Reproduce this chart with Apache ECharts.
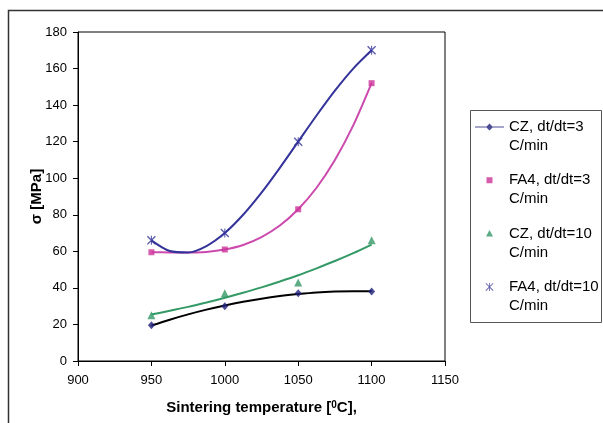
<!DOCTYPE html>
<html>
<head>
<meta charset="utf-8">
<script src="https://cdn.jsdelivr.net/npm/echarts@6/dist/echarts.min.js"></script>
<style>
html,body{margin:0;padding:0;background:#fff;}
#chart{width:603px;height:423px;}
</style>
</head>
<body>
<div id="chart"></div>
<script>
// ---- data ----
const temps = [950, 1000, 1050, 1100];
const czRate3 = [19.5, 30, 37, 38];
const fa4Rate3 = [59.5, 61, 83, 152];
const czRate10 = [25, 37, 43, 66];
const fa4Rate10 = [66, 70, 120, 170];

// trend-line values
const trendTemps = [950, 962.5, 975, 987.5, 1000, 1012.5, 1025, 1037.5, 1050, 1062.5, 1075, 1087.5, 1100];
const trendCz3 = [19.4, 22.6, 25.5, 28.1, 30.4, 32.4, 34.1, 35.5, 36.6, 37.5, 38.0, 38.2, 38.1];
const trendFa43 = [59.5, 59.4, 59.3, 59.7, 61, 63.5, 67.8, 74.1, 83, 94.8, 110, 128.9, 152];
const trendCz10 = [25.4, 27.5, 29.6, 32.0, 34.6, 37.3, 40.3, 43.5, 46.9, 50.7, 54.7, 59.0, 63.7];
const trendFa410 = [66, 60.2, 59.4, 62.9, 70, 80, 92.1, 105.7, 120, 134.3, 147.9, 160, 170];

const xTicks = {min: 900, max: 1150, interval: 50};
const yTicks = {min: 0, max: 180, interval: 20};

const names = ['CZ, dt/dt=3 C/min', 'FA4, dt/dt=3 C/min', 'CZ, dt/dt=10 C/min', 'FA4, dt/dt=10 C/min'];

const pair = (xs, ys) => xs.map((x, i) => [x, ys[i]]);

const NAVY = '#1f1f7a';
const BLUE = '#33339a';
const PINK = '#cc4aae';
const GREEN = '#339966';

const frame = 'M0,0 L0.01,0 L0,0.01 Z M29,38 L28.99,38 L29,37.99 Z ';
const icons = [
  'path://' + frame + 'M0,9 L29,9 L29,10.1 L0,10.1 Z M14.5,6 L18,9.5 L14.5,13 L11,9.5 Z',
  'path://' + frame + 'M11.5,6.5 L17.5,6.5 L17.5,12.5 L11.5,12.5 Z',
  'path://' + frame + 'M14.5,6 L18,12.5 L11,12.5 Z',
  'path://' + frame + 'M10.5,6.1 L11.1,5.5 L18.5,12.9 L17.9,13.5 Z M17.9,5.5 L18.5,6.1 L11.1,13.5 L10.5,12.9 Z M14.1,5.5 L14.9,5.5 L14.9,13.5 L14.1,13.5 Z'
];
const starSymbol = 'path://M0,1.1 L1.1,0 L10,8.9 L8.9,10 Z M8.9,0 L10,1.1 L1.1,10 L0,8.9 Z M4.4,0 L5.6,0 L5.6,10 L4.4,10 Z';

const chart = echarts.init(document.getElementById('chart'));
const font = 'Liberation Sans, Arial, sans-serif';

chart.setOption({
  animation: false,
  backgroundColor: '#fff',
  textStyle: {fontFamily: font},
  graphic: [
    {type: 'rect', shape: {x: 8.5, y: 10.5, width: 700, height: 500}, style: {fill: 'none', stroke: '#333', lineWidth: 1.5}, silent: true, z: -1},
    {type: 'rect', shape: {x: 470.5, y: 110.5, width: 131, height: 212}, style: {fill: 'none', stroke: '#555', lineWidth: 1}, silent: true}
  ],
  grid: {left: 78, top: 32, right: 158, bottom: 62, show: true, borderColor: '#000', borderWidth: 1, backgroundColor: 'transparent'},
  xAxis: {
    type: 'value', min: xTicks.min, max: xTicks.max, interval: xTicks.interval,
    splitLine: {show: false},
    axisLine: {lineStyle: {color: '#000', width: 1}},
    axisTick: {show: true, inside: false, length: 5, lineStyle: {color: '#000'}},
    axisLabel: {color: '#000', fontSize: 13, margin: 13, fontFamily: font, formatter: v => String(v)},
    name: '{b|Sintering temperature [}{s|0}{b|C],}',
    nameLocation: 'middle', nameGap: 39,
    nameTextStyle: {
      rich: {
        b: {fontSize: 15, fontWeight: 'bold', color: '#000', fontFamily: font},
        s: {fontSize: 10, fontWeight: 'bold', color: '#000', fontFamily: font, verticalAlign: 'top'}
      }
    }
  },
  yAxis: {
    type: 'value', min: yTicks.min, max: yTicks.max, interval: yTicks.interval,
    splitLine: {show: false},
    axisLine: {show: true, lineStyle: {color: '#000', width: 1}},
    axisTick: {show: true, inside: false, length: 5, lineStyle: {color: '#000'}},
    axisLabel: {color: '#000', fontSize: 13, margin: 11, fontFamily: font},
    name: 'σ [MPa]', nameLocation: 'middle', nameGap: 34, nameMoveOverlap: false,
    nameTextStyle: {fontSize: 15, fontWeight: 'bold', color: '#000', fontFamily: font}
  },
  legend: {
    orient: 'vertical', left: 470, top: 110,
    padding: [7.5, 5, 7.5, 5],
    itemGap: 15.3, itemWidth: 29, itemHeight: 38,
    symbolKeepAspect: true,
    formatter: n => n.replace(' C/min', '\nC/min'),
    textStyle: {fontSize: 15, lineHeight: 19, color: '#000', fontFamily: font},
    data: names.map((n, i) => ({name: n, icon: icons[i]}))
  },
  series: [
    {type: 'line', data: pair(trendTemps, trendCz3), smooth: 0.3, showSymbol: false, lineStyle: {color: '#000', width: 2}, z: 3, silent: true},
    {type: 'line', data: pair(trendTemps, trendFa43), smooth: 0.3, showSymbol: false, lineStyle: {color: PINK, width: 2}, z: 3, silent: true},
    {type: 'line', data: pair(trendTemps, trendCz10), smooth: 0.3, showSymbol: false, lineStyle: {color: GREEN, width: 2}, z: 3, silent: true},
    {type: 'line', data: pair(trendTemps, trendFa410), smooth: 0.3, showSymbol: false, lineStyle: {color: BLUE, width: 2}, z: 3, silent: true},
    {name: names[0], type: 'scatter', data: pair(temps, czRate3), symbol: 'diamond', symbolSize: [7, 8], itemStyle: {color: NAVY}, z: 4},
    {name: names[1], type: 'scatter', data: pair(temps, fa4Rate3), symbol: 'rect', symbolSize: 6, itemStyle: {color: '#cc3399'}, z: 4},
    {name: names[2], type: 'scatter', data: pair(temps, czRate10), symbol: 'triangle', symbolSize: [8, 8], itemStyle: {color: GREEN}, z: 4},
    {name: names[3], type: 'scatter', data: pair(temps, fa4Rate10), symbol: starSymbol, symbolSize: 9, itemStyle: {color: BLUE}, z: 4}
  ]
});
</script>
</body>
</html>
